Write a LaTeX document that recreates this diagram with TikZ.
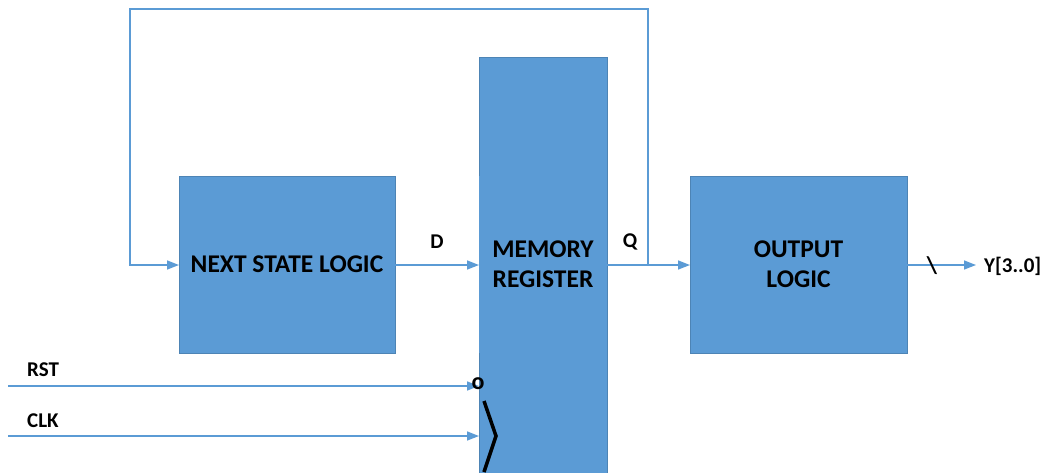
\documentclass[tikz,border=0pt]{standalone}
\usepackage{fontspec}
\setmainfont{Carlito}
\usetikzlibrary{arrows.meta}
\definecolor{obl}{HTML}{5B9BD5}
\begin{document}
\begin{tikzpicture}[x=1pt,y=-1pt,
  blk/.style={fill=obl,draw=obl!85!black,line width=0.4pt,inner sep=0pt,align=center,font=\fontsize{25.5}{30}\selectfont\bfseries},
  wire/.style={draw=obl,line width=1.5pt},
  arr/.style={wire,-{Triangle[length=12pt,width=9pt]}},
  lbl/.style={font=\fontsize{21}{24}\selectfont\bfseries,inner sep=0pt}]
\useasboundingbox (0,0) rectangle (1045,472);
\node[blk,minimum width=216pt,minimum height=177pt] (nsl) at (287,264.5) {NEXT STATE LOGIC};
\path[fill=obl,draw=obl!85!black,line width=0.4pt] (479,57) rectangle (607,473);
\node[blk,draw=none,minimum width=128pt,minimum height=177pt] (mem) at (543,264.5) {MEMORY\\REGISTER};
\node[blk,minimum width=217pt,minimum height=177pt] (out) at (798.5,264.5) {OUTPUT\\LOGIC};
\coordinate (tl) at (130,9);
\coordinate (tr) at (648,9);
\coordinate (qj) at (648,265);
\coordinate (nin) at (179,265);
\draw[arr] (qj) -- (tr) -- (tl) -- (130,265) -- (nin);
\draw[arr] (nsl.east |- 0,265) -- node[lbl,above=16pt]{D} (479,265);
\draw[arr] (607,265) -- (690,265);
\node[lbl] (q) at (630,242) {Q};
\coordinate (yend) at (976,265);
\draw[arr] (out.east |- 0,265) -- (yend);
\node[lbl,anchor=west] (y) at (984,266) {Y[3..0]};
\node[lbl,font=\fontsize{24}{26}\selectfont\bfseries] (sl) at (932,266) {\textbackslash};
\coordinate (rst0) at (8,386);
\coordinate (clk0) at (8,436);
\draw[arr] (rst0) -- (479,386);
\draw[arr] (clk0) -- (479,436);
\node[lbl,anchor=west] (rst) at (27,370) {RST};
\node[lbl,anchor=west] (clk) at (27,421) {CLK};
\node[lbl,font=\fontsize{24}{26}\selectfont\bfseries] (o) at (478,384) {o};
\draw[line width=3.5pt] (484,401) -- (496,436) -- (484,472);
\end{tikzpicture}
\end{document}
